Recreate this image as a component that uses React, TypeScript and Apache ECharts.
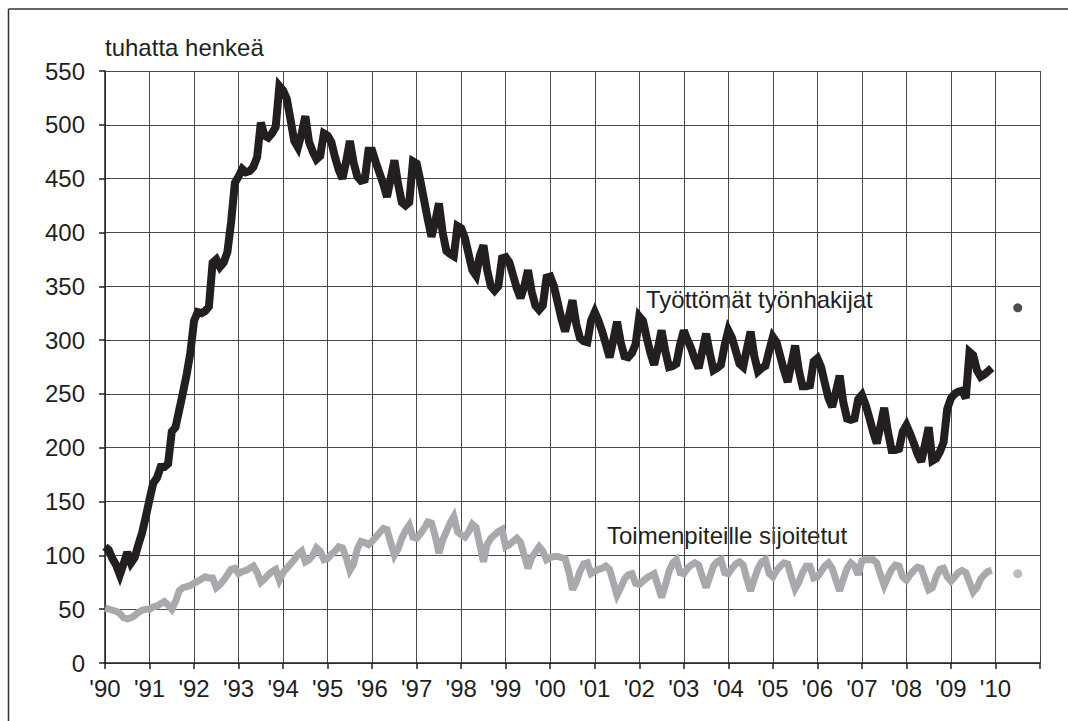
import React, { useEffect, useRef } from "react";
import * as echarts from "echarts";

const yearTicks = ["'90", "'91", "'92", "'93", "'94", "'95", "'96", "'97", "'98", "'99", "'00", "'01", "'02", "'03", "'04", "'05", "'06", "'07", "'08", "'09", "'10"];
const firstYear = 1990;

// Työttömät työnhakijat, monthly 1990–2009 (thousands)
const unemployed = [
  108, 105, 97, 91, 82, 92, 103, 93, 98, 110, 121, 136,
  152, 167, 172, 182, 182, 185, 215, 219, 235, 251, 268, 288,
  318, 326, 325, 327, 331, 372, 375, 368, 372, 382, 410, 446,
  452, 459, 456, 457, 461, 470, 502, 490, 488, 492, 498, 536,
  532, 524, 505, 485, 479, 492, 508, 484, 475, 468, 471, 492,
  490, 484, 470, 458, 450, 466, 485, 465, 452, 448, 449, 476,
  476, 465, 455, 445, 433, 450, 467, 445, 428, 425, 428, 466,
  464, 448, 430, 412, 396, 410, 427, 400, 383, 380, 378, 406,
  404, 395, 380, 365, 360, 378, 388, 365, 350, 346, 350, 376,
  377, 372, 360, 348, 339, 350, 365, 345, 332, 328, 332, 358,
  359, 350, 335, 320, 308, 322, 337, 315, 302, 299, 298, 318,
  326, 318, 308, 296, 284, 300, 317, 298, 285, 284, 288, 296,
  322, 318, 302, 288, 277, 292, 309, 290, 275, 276, 278, 296,
  309, 300, 292, 282, 274, 290, 306, 288, 272, 274, 277, 295,
  309, 302, 290, 278, 275, 292, 308, 285, 271, 274, 276, 290,
  303, 298, 285, 272, 261, 278, 295, 272, 257, 257, 258, 280,
  283, 275, 260, 246, 238, 252, 267, 242, 227, 226, 227, 245,
  249, 240, 228, 215, 204, 220, 237, 215, 198, 198, 199, 215,
  221, 213, 204, 194, 187, 203, 219, 188, 190, 196, 205, 236,
  246, 250, 252, 253, 246, 289, 286, 272, 266, 268, 271, 274,
];

// Toimenpiteille sijoitetut, monthly 1990–2009 (thousands)
const placed = [
  51, 50, 49, 48, 46, 42, 41, 42, 44, 47, 49, 50,
  50, 52, 53, 55, 57, 54, 50, 57, 67, 70, 71, 72,
  74, 76, 78, 80, 79, 79, 70, 73, 77, 82, 87, 88,
  83, 85, 86, 88, 90, 84, 75, 78, 82, 85, 87, 77,
  84, 88, 92, 96, 101, 104, 94, 96, 100, 107, 104, 96,
  97, 101, 104, 108, 107, 98, 86, 92, 106, 113, 112, 110,
  113, 117, 121, 125, 124, 112, 100, 106, 116, 123, 128, 117,
  116, 120, 125, 131, 130, 118, 102, 114, 122, 130, 136, 122,
  119, 117, 122, 129, 126, 110, 94, 110, 116, 119, 122, 124,
  108, 110, 113, 116, 112, 100, 88, 98, 103, 108, 104, 96,
  98, 99, 99, 98, 97, 85, 68, 75, 85, 92, 93, 83,
  85, 87, 88, 90, 87, 75, 63, 70, 78, 82, 83, 74,
  73, 76, 79, 81, 83, 72, 61, 72, 85, 93, 96, 84,
  83, 88, 91, 93, 91, 80, 70, 80, 90, 94, 96, 84,
  83, 88, 92, 94, 91, 78, 67, 78, 88, 94, 96, 83,
  80, 86, 90, 93, 92, 80, 69, 75, 84, 90, 90, 79,
  80, 85, 90, 93, 88, 77, 67, 78, 88, 93, 90, 82,
  95, 96, 96, 96, 93, 82, 72, 80, 87, 91, 90, 80,
  77, 82, 86, 89, 88, 78, 68, 70, 80, 87, 88, 80,
  76, 80, 84, 86, 84, 75, 66, 70, 78, 82, 85, 86,
];

// Annual 2010 forecast points
const forecastYear = [2010.5];
const forecastUnemployed = [330];
const forecastPlaced = [83];

const yTicks = [0, 50, 100, 150, 200, 250, 300, 350, 400, 450, 500, 550];

const BLACK = "#231f20";
const GRAY = "#a7a9ac";
const FONT = "'Liberation Sans', Arial, Helvetica, sans-serif";
const FS = 24;

export default function App() {
  const ref = useRef<HTMLDivElement>(null);
  useEffect(() => {
    if (!ref.current) return;
    document.body.style.margin = "0";
    document.body.style.overflow = "hidden";
    const chart = echarts.init(ref.current, undefined, { renderer: "svg" });
    const toXY = (arr: number[]) => arr.map((v, i) => [firstYear + i / 12, v]);
    const lastYear = firstYear + yearTicks.length; // 2011, axis end
    chart.setOption({
      animation: false,
      backgroundColor: "#ffffff",
      textStyle: { fontFamily: FONT },
      grid: { left: 105, right: 28, top: 71, bottom: 58, containLabel: false },
      xAxis: {
        type: "value",
        min: firstYear,
        max: lastYear,
        interval: 1,
        axisLine: { show: true, onZero: false, lineStyle: { color: BLACK, width: 1.5 } },
        axisTick: { show: true, length: 6, lineStyle: { color: BLACK, width: 1.5 } },
        axisLabel: {
          fontSize: FS,
          color: BLACK,
          fontFamily: FONT,
          margin: 13,
          formatter: (v: number) => {
            const idx = Math.round(v) - firstYear;
            return idx >= 0 && idx < yearTicks.length ? yearTicks[idx] : "";
          },
        },
        splitLine: { show: true, lineStyle: { color: "#4a4a4a", width: 1 } },
      },
      yAxis: {
        type: "value",
        min: yTicks[0],
        max: yTicks[yTicks.length - 1],
        interval: 50,
        axisLine: { show: true, lineStyle: { color: BLACK, width: 1.5 } },
        axisTick: { show: true, length: 6, lineStyle: { color: BLACK, width: 1.5 } },
        axisLabel: { fontSize: FS, color: BLACK, fontFamily: FONT, margin: 20 },
        splitLine: { show: true, lineStyle: { color: "#4a4a4a", width: 1 } },
      },
      graphic: [
        {
          type: "line",
          shape: { x1: 8.5, y1: 9, x2: 1068, y2: 9 },
          style: { stroke: "#333", lineWidth: 1.5 },
          silent: true,
        },
        {
          type: "line",
          shape: { x1: 8.5, y1: 9, x2: 8.5, y2: 721 },
          style: { stroke: "#333", lineWidth: 1.5 },
          silent: true,
        },
        {
          type: "text",
          x: 105,
          y: 47,
          style: { text: "tuhatta henkeä", fontSize: FS, fill: BLACK, fontFamily: FONT, verticalAlign: "middle" },
        },
        {
          type: "text",
          x: 646,
          y: 299,
          style: { text: "Työttömät työnhakijat", fontSize: FS, fill: BLACK, fontFamily: FONT, verticalAlign: "middle" },
        },
        {
          type: "text",
          x: 607,
          y: 535,
          style: { text: "Toimenpiteille sijoitetut", fontSize: FS, fill: BLACK, fontFamily: FONT, verticalAlign: "middle" },
        },
      ],
      series: [
        {
          type: "line",
          data: toXY(placed),
          showSymbol: false,
          symbol: "none",
          lineStyle: { color: GRAY, width: 7, join: "miter", miterLimit: 3 },
          z: 3,
        },
        {
          type: "line",
          data: toXY(unemployed),
          showSymbol: false,
          symbol: "none",
          lineStyle: { color: BLACK, width: 8, join: "miter", miterLimit: 3 },
          z: 4,
        },
        {
          type: "scatter",
          data: forecastYear.map((x, i) => [x, forecastUnemployed[i]]),
          symbol: "circle",
          symbolSize: 9,
          itemStyle: { color: BLACK },
          z: 5,
        },
        {
          type: "scatter",
          data: forecastYear.map((x, i) => [x, forecastPlaced[i]]),
          symbol: "circle",
          symbolSize: 9,
          itemStyle: { color: GRAY },
          z: 5,
        },
      ],
    });
    return () => chart.dispose();
  }, []);
  return <div ref={ref} style={{ width: 1068, height: 721 }} />;
}
